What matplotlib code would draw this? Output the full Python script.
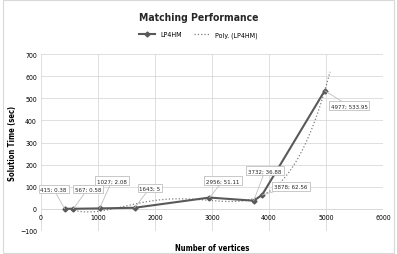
import matplotlib
matplotlib.use("Agg")
import matplotlib.pyplot as plt
import numpy as np

# LP4HM solution times
vertices = [415, 567, 1027, 1643, 2956, 3732, 3878, 4977]
times = [0.38, 0.58, 2.08, 5, 51.11, 36.88, 62.56, 533.95]
labels = ["415; 0.38", "567; 0.58", "1027; 2.08", "1643; 5",
          "2956; 51.11", "3732; 36.88", "3878; 62.56", "4977; 533.95"]
label_pos = [(220, 90), (820, 90), (1246, 127), (1912, 95),
             (3193, 127), (3930, 172), (4386, 100), (5404, 466)]

plt.rcParams['font.family'] = ['DejaVu Sans']
plt.rcParams['font.stretch'] = 'condensed'

fig = plt.figure(figsize=(3.97, 2.55), dpi=100)
ax = fig.add_axes([0.1033, 0.0902, 0.8614, 0.6941])

# excel-style polynomial trendline
coef = np.polyfit(vertices, times, 4)
xs = np.linspace(415, 5070, 200)
ax.plot(xs, np.polyval(coef, xs), ':', color='#7f7f7f', lw=0.9, label='Poly. (LP4HM)')
ax.plot(vertices, times, '-', color='#595959', lw=1.5, marker='D', ms=2.5,
        label='LP4HM', zorder=3)

for (x, y), txt, (tx, ty) in zip(zip(vertices, times), labels, label_pos):
    ax.annotate(txt, (x, y), xytext=(tx, ty), fontsize=4.4, ha='center', va='center',
                color='#262626',
                bbox=dict(boxstyle='square,pad=0.3', fc='white', ec='#bfbfbf', lw=0.6),
                arrowprops=dict(arrowstyle='-', color='#bfbfbf', lw=0.6,
                                shrinkA=0, shrinkB=0), zorder=4)

ax.set_xlim(0, 6000)
ax.set_ylim(-100, 700)
ax.set_xticks(range(0, 6001, 1000))
ax.set_yticks(range(-100, 701, 100))
ax.grid(True, color='#d9d9d9', lw=0.6)
ax.set_axisbelow(True)
# x labels sit on the zero line, like Excel
ax.spines['bottom'].set_position(('data', 0))
for s in ax.spines.values():
    s.set_visible(False)
ax.axhline(0, color='#d9d9d9', lw=0.6, zorder=0)
ax.tick_params(length=0, labelsize=5, pad=3)
ax.tick_params(axis='x', pad=4)
ax.set_xlabel("Number of vertices", fontsize=5.5, fontweight='bold')
ax.xaxis.set_label_coords(0.5, -0.07)
ax.set_ylabel("Solution Time (sec)", fontsize=5.5, fontweight='bold')
ax.yaxis.set_label_coords(-0.07, 0.5)

handles, lbls = ax.get_legend_handles_labels()
fig.legend(handles[::-1], lbls[::-1], loc='center', bbox_to_anchor=(0.5, 0.86), ncol=2,
           frameon=False, fontsize=5, handlelength=2.2, columnspacing=1.8)
fig.suptitle("Matching Performance", y=0.95, fontsize=7.5, fontweight='bold', color='#262626')

fig.add_artist(plt.Rectangle((0.008, 0.005), 0.984, 0.99, transform=fig.transFigure,
                             fill=False, ec='#d9d9d9', lw=0.8))

fig.savefig("out.png", dpi=100)
